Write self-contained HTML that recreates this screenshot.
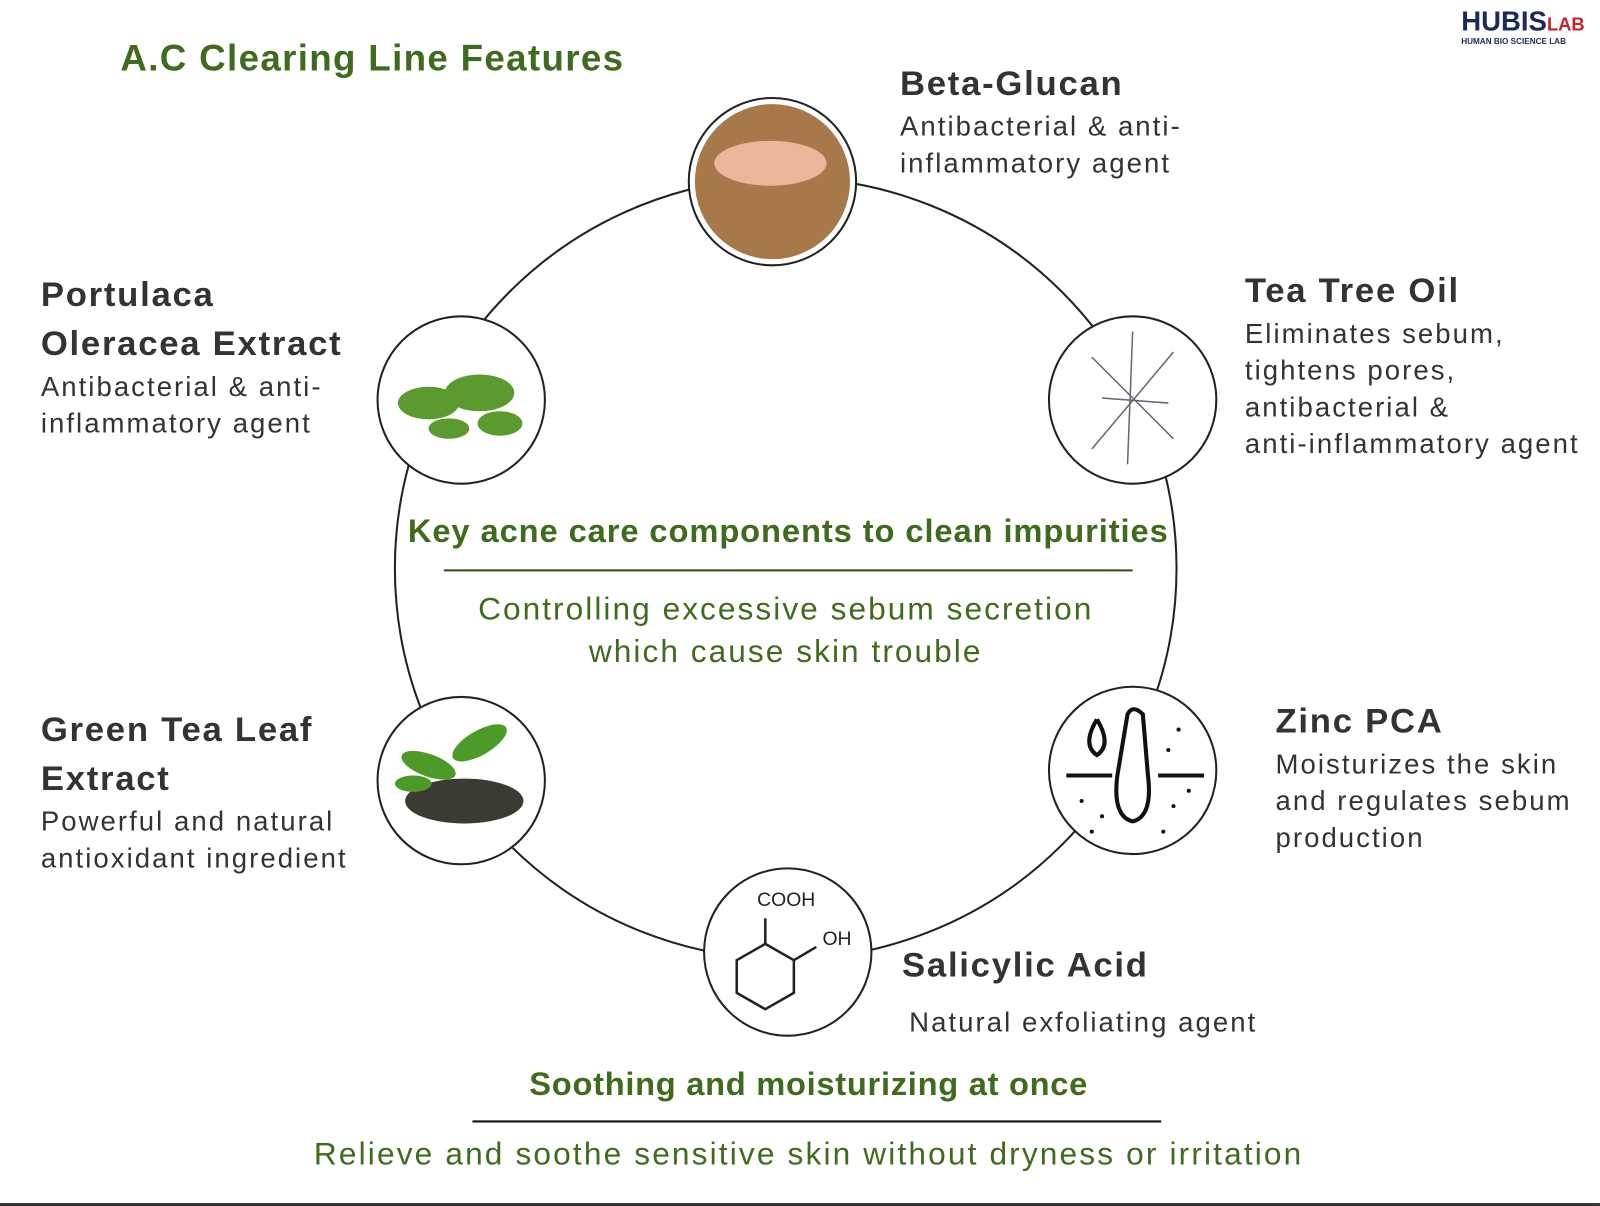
<!DOCTYPE html>
<html><head><meta charset="utf-8"><style>
html,body{margin:0;padding:0;background:#fff;width:1600px;height:1206px;overflow:hidden}
#w{position:absolute;left:0;top:0;width:1568px;height:1182px;transform:scale(1.0204);transform-origin:0 0;font-family:"Liberation Sans",sans-serif}
.t{position:absolute;white-space:nowrap}
.h{font-weight:bold;font-size:34px;color:#333;line-height:48px;letter-spacing:1.7px}
.b{font-size:27px;color:#333;line-height:36px;letter-spacing:2px}
.g{color:#3f6b1d;font-weight:bold}
</style></head><body><div id="w">
<svg width="1568" height="1182" style="position:absolute;left:0;top:0">
<circle cx="770" cy="557" r="383" fill="none" stroke="#222" stroke-width="2"/>
<line x1="435" y1="559" x2="1110" y2="559" stroke="#2d4a16" stroke-width="2"/>
<line x1="463" y1="1099" x2="1138" y2="1099" stroke="#111" stroke-width="2"/>
<rect x="0" y="1179" width="1568" height="3" fill="#333"/>
<g stroke="#222" stroke-width="2">
<circle cx="757" cy="178" r="82" fill="#fff"/>
<circle cx="757" cy="178" r="76" fill="#a7784a" stroke="none"/>
<ellipse cx="755" cy="160" rx="55" ry="22" fill="#e7b99a" stroke="none"/>
<circle cx="452" cy="392" r="82" fill="#fff"/>
<g fill="#5a9a2e" stroke="none"><ellipse cx="420" cy="395" rx="30" ry="16"/><ellipse cx="470" cy="385" rx="34" ry="18"/><ellipse cx="490" cy="415" rx="22" ry="12"/><ellipse cx="440" cy="420" rx="20" ry="10"/></g>
<circle cx="1110" cy="392" r="82" fill="#fff"/>
<g stroke="#667" stroke-width="1.5"><line x1="1110" y1="325" x2="1105" y2="455"/><line x1="1070" y1="350" x2="1150" y2="430"/><line x1="1150" y1="345" x2="1070" y2="440"/><line x1="1080" y1="390" x2="1145" y2="395"/></g>
<circle cx="1110" cy="755" r="82" fill="#fff"/>
<g fill="none" stroke="#111" stroke-width="4"><path d="M1045 760 H1090 M1135 760 H1180"/><path d="M1095 760 Q1090 800 1110 805 Q1130 800 1125 760 L1120 700 Q1110 690 1105 700 Z"/><path d="M1075 705 Q1060 730 1075 740 Q1090 730 1075 705"/></g>
<g fill="#111" stroke="none"><circle cx="1060" cy="785" r="2"/><circle cx="1080" cy="800" r="2"/><circle cx="1150" cy="790" r="2"/><circle cx="1165" cy="775" r="2"/><circle cx="1140" cy="815" r="2"/><circle cx="1070" cy="815" r="2"/><circle cx="1155" cy="715" r="2"/><circle cx="1145" cy="735" r="2"/></g>
<circle cx="772" cy="933" r="82" fill="#fff"/>
<g fill="none" stroke="#222" stroke-width="2.5"><polygon points="750,925 778,941 778,973 750,989 722,973 722,941"/><line x1="750" y1="925" x2="750" y2="900"/><line x1="778" y1="941" x2="800" y2="928"/></g>
<circle cx="452" cy="765" r="82" fill="#fff"/>
<ellipse cx="455" cy="785" rx="58" ry="22" fill="#3b3a33" stroke="none"/>
<g fill="#4e9a28" stroke="none"><ellipse cx="470" cy="728" rx="30" ry="12" transform="rotate(-30 470 728)"/><ellipse cx="420" cy="750" rx="28" ry="11" transform="rotate(20 420 750)"/><ellipse cx="405" cy="768" rx="18" ry="8"/></g>
</g>
</svg>
<div class="t g" style="left:118px;top:36px;font-size:36px;letter-spacing:1.3px">A.C Clearing Line Features</div>
<div class="t" style="left:1432px;top:6px;font-size:27px;font-weight:bold;color:#1c2a5a">HUBIS<span style="color:#c8202a;font-size:18px">LAB</span></div>
<div class="t" style="left:1432px;top:36px;font-size:8px;font-weight:bold;color:#1c2a5a">HUMAN BIO SCIENCE LAB</div>
<div class="t h" style="left:882px;top:58px">Beta-Glucan</div>
<div class="t b" style="left:882px;top:106px">Antibacterial &amp; anti-<br>inflammatory agent</div>
<div class="t h" style="left:1220px;top:261px">Tea Tree Oil</div>
<div class="t b" style="left:1220px;top:309px">Eliminates sebum,<br>tightens pores,<br>antibacterial &amp;<br>anti-inflammatory agent</div>
<div class="t h" style="left:40px;top:265px">Portulaca<br>Oleracea Extract</div>
<div class="t b" style="left:40px;top:361px">Antibacterial &amp; anti-<br>inflammatory agent</div>
<div class="t h" style="left:40px;top:691px">Green Tea Leaf<br>Extract</div>
<div class="t b" style="left:40px;top:787px">Powerful and natural<br>antioxidant ingredient</div>
<div class="t h" style="left:1250px;top:683px">Zinc PCA</div>
<div class="t b" style="left:1250px;top:731px">Moisturizes the skin<br>and regulates sebum<br>production</div>
<div class="t h" style="left:884px;top:922px">Salicylic Acid</div>
<div class="t b" style="left:891px;top:984px">Natural exfoliating agent</div>
<div class="t" style="left:742px;top:872px;font-size:19px;color:#222">COOH</div>
<div class="t" style="left:806px;top:910px;font-size:19px;color:#222">OH</div>
<div class="t g" style="left:380px;top:502px;font-size:32px;width:785px;text-align:center;letter-spacing:0.9px">Key acne care components to clean impurities</div>
<div class="t" style="left:370px;top:576px;font-size:31px;width:800px;text-align:center;color:#3f6b1d;line-height:42px;letter-spacing:2px">Controlling excessive sebum secretion<br>which cause skin trouble</div>
<div class="t g" style="left:400px;top:1044px;font-size:32px;width:785px;text-align:center;letter-spacing:0.7px">Soothing and moisturizing at once</div>
<div class="t" style="left:240px;top:1113px;font-size:31px;width:1105px;text-align:center;color:#3f6b1d;letter-spacing:2.1px">Relieve and soothe sensitive skin without dryness or irritation</div>
</div></body></html>
